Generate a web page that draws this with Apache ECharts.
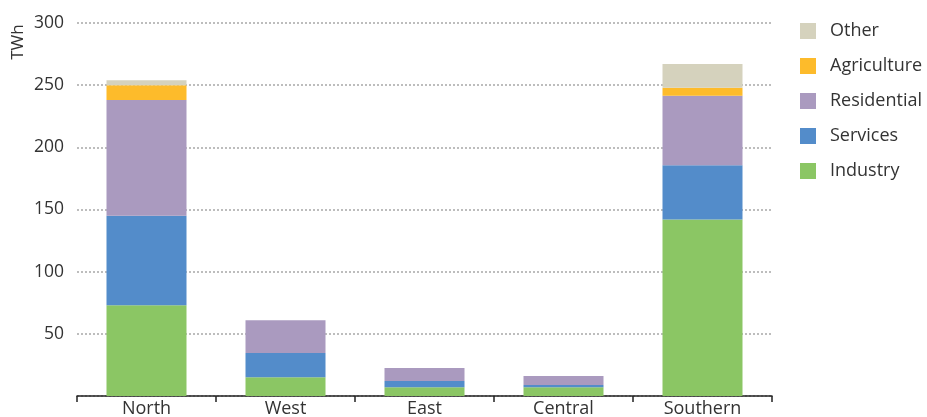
<!DOCTYPE html>
<html><head><meta charset="utf-8">
<script src="https://cdn.jsdelivr.net/npm/echarts@6/dist/echarts.min.js"></script>
<style>html,body{margin:0;padding:0;background:#fff}#c{width:927px;height:417px}</style>
</head><body><div id="c"></div>
<script>
const categories = ['North', 'West', 'East', 'Central', 'Southern'];
const industry = [73, 15, 7, 7, 142];
const services = [72, 19.5, 5, 1.8, 43.5];
const residential = [93, 26.5, 10.5, 7.2, 56];
const agriculture = [12, 0, 0, 0, 6.5];
const other = [4, 0, 0, 0, 19];
const yTicks = [0, 50, 100, 150, 200, 250, 300];

const font = '"Open Sans", Lato, sans-serif';
const chart = echarts.init(document.getElementById('c'));
const mk = (name, data, color) => ({
  name, type: 'bar', stack: 'total', data, barWidth: 80,
  itemStyle: { color }, emphasis: { disabled: true }
});
chart.setOption({
  animation: false,
  textStyle: { fontFamily: font },
  grid: { left: 77, right: 155, top: 23, bottom: 21, containLabel: false, outerBoundsMode: 'none' },
  legend: {
    orient: 'vertical', left: 795, top: 17, itemWidth: 16, itemHeight: 16,
    itemGap: 17, icon: 'rect', padding: 5,
    data: ['Other', 'Agriculture', 'Residential', 'Services', 'Industry'],
    textStyle: { fontSize: 18, lineHeight: 16, color: '#333', fontFamily: font, padding: [0, 0, 0, 9] }
  },
  graphic: [{
    type: 'text', x: 18, y: 42, rotation: Math.PI / 2,
    style: { text: 'TWh', fontSize: 17, fill: '#333', fontFamily: font, align: 'center', verticalAlign: 'middle' }
  }],
  xAxis: {
    type: 'category', data: categories,
    axisLine: { lineStyle: { color: '#222', width: 1.5 } },
    axisTick: { show: true, length: 6, lineStyle: { color: '#222', width: 1.5 } },
    axisLabel: { fontSize: 18, color: '#333', margin: 4, fontFamily: font }
  },
  yAxis: {
    type: 'value', min: yTicks[0], max: yTicks[yTicks.length - 1], interval: 50,
    axisLine: { show: false }, axisTick: { show: false },
    axisLabel: { fontSize: 17.5, color: '#333', margin: 13, fontFamily: font,
      formatter: v => (v === 0 ? '' : String(v)) },
    splitLine: { lineStyle: { color: '#bdbdbd', width: 2, type: [2, 2] } }
  },
  series: [
    mk('Industry', industry, '#8bc664'),
    mk('Services', services, '#538cca'),
    mk('Residential', residential, '#aa9abf'),
    mk('Agriculture', agriculture, '#fdbb2b'),
    mk('Other', other, '#d5d2bd')
  ]
});
</script></body></html>
